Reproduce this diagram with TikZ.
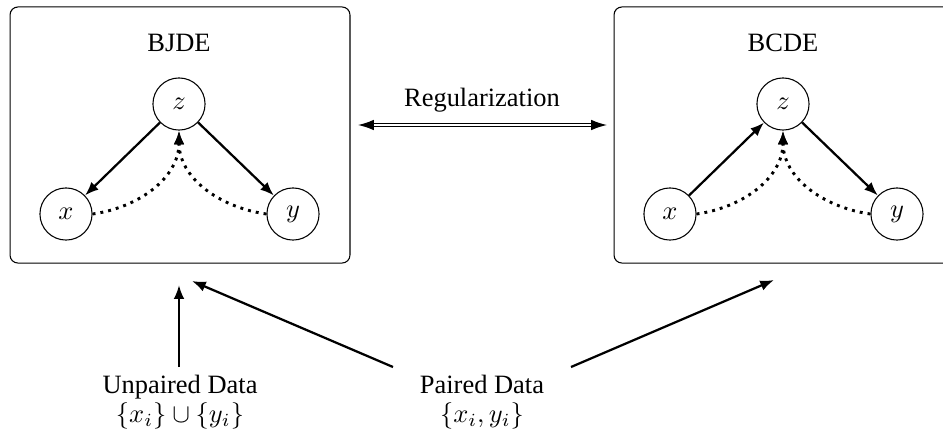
\documentclass[tikz,border=0pt]{standalone}
\usepackage{fontspec}
\setmainfont{Liberation Serif}
\usetikzlibrary{arrows.meta}
\begin{document}
\begin{tikzpicture}[x=0.378pt, y=-0.378pt,
  panel/.style={draw, line width=0.4pt, rounded corners=3pt,
    minimum width=128.5pt, minimum height=96.8pt, inner sep=0pt},
  var/.style={draw, circle, minimum size=19.7pt, inner sep=0pt},
  tip/.style={-{Latex[length=5.2pt,width=4pt]}},
  flow/.style={line width=0.85pt, tip},
  infer/.style={line width=1.1pt, dash pattern=on 1.1pt off 1.9pt, tip},
  reg/.style={line width=0.5pt, double, double distance=0.65pt,
    {Latex[length=6pt,width=4pt]}-{Latex[length=6pt,width=4pt]}},
]
\useasboundingbox (0,0) rectangle (943,432);

% joint model panel
\node[panel] (bjde) at (180,135) {};
\node (bjdet) at (179,43) {BJDE};
\node[var] (zl) at (179,104) {$z$};
\node[var] (xl) at (66,214) {$x$};
\node[var] (yl) at (293,214) {$y$};
\draw[flow] (zl) -- (xl);
\draw[flow] (zl) -- (yl);
\draw[infer] (xl.east) to[out=8,in=-90] (zl.south);
\draw[infer] (yl.west) to[out=172,in=-90] (zl.south);

% conditional model panel
\node[panel] (bcde) at (784,135) {};
\node (bcdet) at (783,43) {BCDE};
\node[var] (zr) at (783,104) {$z$};
\node[var] (xr) at (670,214) {$x$};
\node[var] (yr) at (897,214) {$y$};
\draw[flow] (xr) -- (zr);
\draw[flow] (zr) -- (yr);
\draw[infer] (xr.east) to[out=8,in=-90] (zr.south);
\draw[infer] (yr.west) to[out=172,in=-90] (zr.south);

% regularization link between the panels
\node (regt) at (482,100) {Regularization};
\coordinate (regl) at (358,125);
\coordinate (regr) at (607,125);
\draw[reg] (regl) -- (regr);

% data sources
\node[align=center, inner sep=0pt] (unpaired) at (180,402)
  {Unpaired Data\\[-1pt] $\{x_i\}\cup\{y_i\}$};
\node[align=center, inner sep=0pt] (paired) at (482,402)
  {Paired Data\\[-1pt] $\{x_i,y_i\}$};

\coordinate (ua) at (179,367);
\coordinate (ub) at (179,285);
\coordinate (pa) at (393,367);
\coordinate (pb) at (192,281);
\coordinate (pc) at (571,367);
\coordinate (pd) at (774,280);
\draw[flow] (ua) -- (ub);
\draw[flow] (pa) -- (pb);
\draw[flow] (pc) -- (pd);
\end{tikzpicture}
\end{document}
